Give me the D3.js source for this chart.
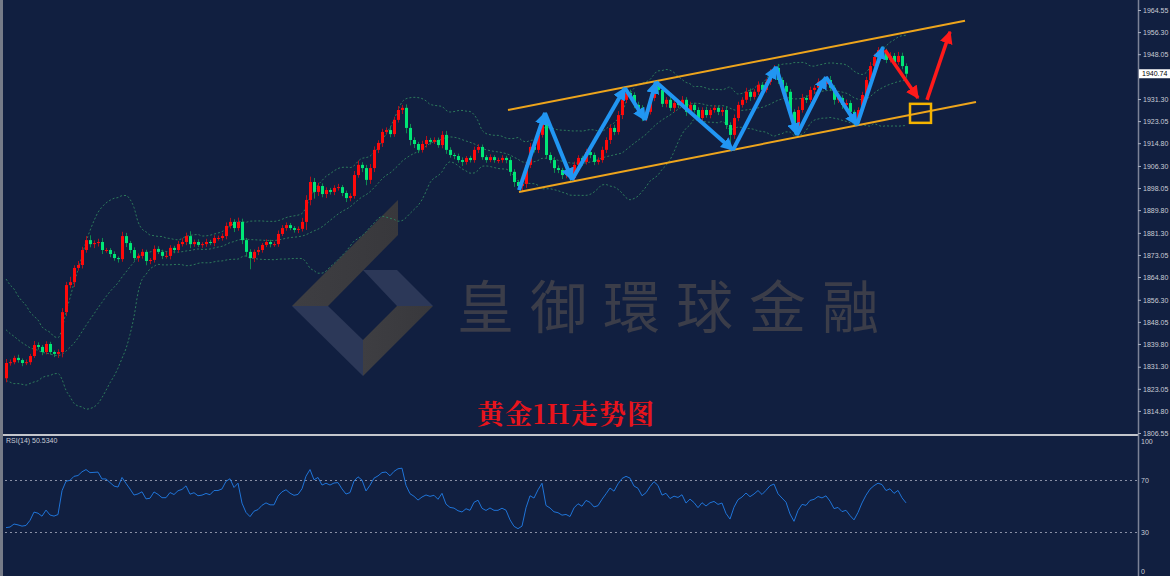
<!DOCTYPE html>
<html>
<head>
<meta charset="utf-8">
<script src="https://cdn.jsdelivr.net/npm/d3@7"></script>
<style>
  body { margin: 0; background: #111f40; }
  svg { display: block; }
</style>
</head>
<body>
<div id="chart"></div>
<script>
// closes before the first visible bar (only feed the bands and the RSI)
const warmupCloses = [1858, 1861, 1856, 1859, 1855, 1852, 1854, 1850, 1848, 1851,
  1846, 1843, 1845, 1840, 1842, 1838, 1835, 1837, 1831, 1827];

// hourly closes
const closes = [
  1832.7, 1833.0, 1834.6, 1833.8, 1832.7, 1833.0, 1835.3, 1839.4, 1838.7, 1836.8,
  1839.8, 1836.8, 1836.1, 1836.8, 1851.7, 1861.8, 1862.9, 1868.2, 1869.3, 1874.9,
  1878.6, 1877.1, 1877.5, 1877.9, 1874.9, 1874.9, 1873.4, 1871.9, 1871.5, 1880.1,
  1877.5, 1874.9, 1871.9, 1872.7, 1874.2, 1870.8, 1871.2, 1875.3, 1874.2, 1872.7,
  1872.7, 1875.7, 1874.9, 1877.1, 1877.9, 1880.1, 1877.1, 1877.9, 1876.8, 1877.1,
  1877.9, 1877.5, 1879.4, 1879.4, 1880.1, 1883.9, 1885.4, 1883.1, 1885.4, 1878.6,
  1874.2, 1871.9, 1874.2, 1874.9, 1876.8, 1877.9, 1877.1, 1877.1, 1880.9, 1883.1,
  1884.2, 1883.1, 1882.4, 1882.8, 1885.4, 1893.6, 1900.3, 1896.6, 1898.8, 1895.8,
  1897.3, 1896.6, 1898.1, 1898.4, 1896.2, 1894.3, 1895.1, 1902.9, 1906.7, 1905.5,
  1901.1, 1905.5, 1912.3, 1914.9, 1919.0, 1919.7, 1918.2, 1923.5, 1927.2, 1928.0,
  1920.5, 1916.0, 1914.5, 1912.3, 1914.5, 1916.0, 1915.3, 1916.0, 1914.1, 1917.9,
  1912.3, 1910.4, 1910.0, 1908.5, 1907.8, 1909.3, 1908.5, 1912.3, 1913.4, 1909.6,
  1908.5, 1909.6, 1908.5, 1908.5, 1909.3, 1908.5, 1904.1, 1900.3, 1898.8, 1899.6,
  1906.7, 1913.4, 1912.3, 1917.9, 1923.5, 1910.4, 1908.5, 1905.5, 1904.8, 1902.9,
  1903.3, 1901.8, 1906.7, 1909.3, 1907.8, 1911.5, 1910.4, 1907.8, 1908.5, 1912.3,
  1916.0, 1920.5, 1919.0, 1925.3, 1931.0, 1933.6, 1932.8, 1929.1, 1928.0, 1924.2,
  1926.5, 1931.7, 1936.6, 1934.7, 1929.5, 1931.0, 1928.0, 1929.8, 1929.1, 1931.0,
  1926.5, 1929.1, 1927.2, 1924.2, 1927.2, 1925.3, 1927.2, 1928.0, 1926.5, 1927.2,
  1921.6, 1917.9, 1924.2, 1929.1, 1931.0, 1934.0, 1932.1, 1934.0, 1936.6, 1934.7,
  1937.7, 1941.4, 1942.9, 1938.4, 1936.2, 1934.0, 1926.5, 1920.5, 1927.2, 1931.7,
  1931.0, 1934.7, 1935.5, 1937.7, 1936.9, 1938.4, 1935.5, 1931.0, 1931.7, 1929.1,
  1929.8, 1926.5, 1923.5, 1927.2, 1932.8, 1938.4, 1943.6, 1947.0, 1949.6, 1948.9,
  1945.9, 1947.4, 1945.1, 1947.4, 1943.6, 1940.74
];

// shadow lengths above / below the body (dollars)
const wickUp = [
  1.5, 1, 0.8, 1.2, 0.6, 1, 0.8, 1.5, 1, 0.7,
  1, 0.8, 0.6, 1, 1.5, 1.2, 2, 1, 1.5, 1.2,
  1.5, 1.8, 1, 1.2, 1.5, 0.8, 0.7, 1, 0.6, 1.6,
  1.2, 0.8, 1, 0.9, 1.1, 0.8, 0.7, 1.3, 1, 0.8,
  1.5, 1, 0.8, 1.2, 1.4, 1.3, 1.8, 0.9, 1, 0.7,
  1.2, 0.8, 1, 0.9, 1, 1.3, 1.5, 1, 1.6, 1.2,
  0.8, 1, 0.9, 1.2, 0.7, 1, 0.8, 0.9, 1.3, 1.1,
  1, 0.8, 0.7, 0.9, 1.5, 1.8, 2, 1.5, 1.2, 1,
  1, 0.8, 1, 1.2, 0.8, 0.9, 1, 1.5, 1.6, 1,
  1.2, 1.5, 1.3, 1, 1.2, 1, 1.4, 1.2, 1.5, 1.1,
  1.3, 1.5, 1, 0.8, 1.2, 1.5, 0.8, 1, 0.9, 1.4,
  1.5, 1, 0.8, 0.9, 1, 0.7, 0.8, 1.2, 1, 0.9,
  0.8, 1, 0.7, 0.9, 1, 0.8, 1.2, 1, 0.8, 0.9,
  1.2, 1.5, 1.2, 1.4, 1.5, 1.8, 1, 1.2, 1, 0.8,
  0.9, 1, 1.2, 1, 0.8, 1.2, 1, 0.9, 1, 1.2,
  1, 1.3, 1.2, 1.5, 1.5, 1.1, 1.2, 1, 1.2, 1,
  1, 1.5, 1.1, 1.5, 1.2, 1, 1.2, 0.9, 1, 1.4,
  1, 1.2, 0.8, 1, 1, 1.2, 0.8, 1, 0.9, 1,
  1.2, 1, 1.3, 1.2, 1, 1.5, 1.2, 1, 1.3, 1,
  1.2, 1.1, 1.1, 1.5, 1, 1.2, 1, 1, 1.3, 1.5,
  1, 1.2, 1, 1.3, 1.2, 1.4, 1.5, 1, 1.2, 1,
  1.3, 1, 0.8, 1, 1.2, 1.2, 1.5, 1.2, 1.1, 1.5,
  1.2, 1.4, 1.1, 1.5, 1.2, 1
];
const wickDn = [
  1.5, 1, 0.8, 1, 1.2, 0.8, 1, 0.7, 1, 1.2,
  0.9, 1, 1.2, 1.5, 2, 1.5, 1.2, 1.8, 1, 1.3,
  1, 1.2, 1.5, 1.3, 1.5, 1, 1.2, 1, 1.3, 1,
  1.5, 1.2, 1, 1.4, 1, 1.6, 1.2, 1, 0.8, 1.2,
  1, 1.3, 1.2, 1, 0.9, 1.2, 1.5, 1, 0.8, 1.1,
  1, 0.8, 1.2, 1, 1, 1.2, 1, 1.5, 1, 1.5,
  1.8, 4.2, 1.5, 1.2, 1, 0.8, 1.2, 1, 1, 0.8,
  1, 0.8, 1, 1.2, 1, 3, 2, 2.5, 1.5, 1.2,
  1.5, 1, 1.2, 1, 1.2, 1.5, 1.2, 1, 1, 1.5,
  2, 1.5, 1.5, 1.2, 1.5, 1, 1.2, 1, 1, 1.5,
  2, 2, 1.5, 1.2, 1, 1.3, 1, 0.8, 1, 1.2,
  1.5, 1, 1.2, 1, 1.5, 1, 0.9, 1, 1.2, 1,
  1, 0.8, 1, 1.2, 1, 1.2, 1.5, 1.8, 1.5, 2.3,
  1.5, 1.2, 1, 1.2, 1, 1.5, 1.2, 1.8, 1.2, 1.5,
  1.2, 1, 1.2, 1, 1.5, 1, 1.2, 1.2, 1, 1,
  1.2, 1.5, 1.2, 1, 1.5, 1.2, 1.3, 1.2, 1.5, 1.2,
  1.2, 1, 1.2, 1.5, 1.2, 1.3, 1.2, 1.5, 1.2, 1,
  1.5, 1.2, 1, 1.5, 1.2, 1, 1.2, 1, 1.2, 1.5,
  1.5, 5, 1.5, 1.2, 1, 1.2, 1.5, 1, 1.2, 1,
  1, 1.2, 1, 1.5, 1.2, 1.5, 1.8, 2.3, 1.2, 1,
  1.2, 1, 1.5, 1, 1.2, 1, 1.2, 1.8, 1.2, 1.5,
  1.2, 1.5, 2.3, 1.5, 1.2, 1, 1.2, 1, 1, 1.2,
  1.2, 1, 1.2, 1, 1.2, 1.5
];

// axis labels (1939.80 sits under the price tag in the original, so it is left out)
const priceTicks = ['1964.55', '1956.30', '1948.05', '1931.30', '1923.05', '1914.80',
  '1906.30', '1898.05', '1889.80', '1881.30', '1873.05', '1864.80', '1856.30', '1848.05',
  '1839.80', '1831.30', '1823.05', '1814.80', '1806.55'];
const rsiTicks = [100, 70, 30, 0];
const rsiLevels = [70, 30];
const rsiLabel = 'RSI(14) 50.5340';
const lastPrice = 1940.74;

// drawn annotations, in [bar index, price]
const channelUpper = [[125.5, 1927.2], [239.75, 1960.5]];
const channelLower = [[128.25, 1896.6], [242.5, 1930.2]];
const zigzag = [[128.25, 1897.3], [134.75, 1926.1], [141.5, 1901.1], [154.75, 1935.4],
  [159.75, 1923.5], [162.5, 1937.7], [181.75, 1912.3], [192.5, 1943.3], [197.75, 1917.9],
  [205, 1939.5], [212.75, 1921.6], [219.25, 1950.7]];
const forecastArrows = [[[219.75, 1949.6], [228, 1931.7]], [[230.25, 1931.0], [236, 1956.4]]];
const targetBox = [[226, 1929.5], [231.25, 1922.4]];

const watermark = '皇御環球金融';
const title = '黄金1H走势图';

const W = 1170;
const H = 576;
const axisX = 1138;

const svg = d3.select('#chart').append('svg')
  .attr('width', W)
  .attr('height', H);

svg.append('rect').attr('width', W).attr('height', H).attr('fill', '#111f40');

// scales
const x = d3.scaleLinear().domain([0, closes.length - 1]).range([6, 6 + 4 * (closes.length - 1)]);
const y = d3.scaleLinear().domain([1806.55, 1964.55]).range([433, 10]);
const yr = d3.scaleLinear().domain([0, 100]).range([571, 441]);

// watermark logo (decoration)
const logo = svg.append('g').attr('id', 'logo');
const grayGrad = svg.append('defs').append('linearGradient')
  .attr('id', 'gg').attr('x1', 0).attr('x2', 1).attr('y1', 0).attr('y2', 0);
grayGrad.append('stop').attr('offset', 0).attr('stop-color', '#3e3e42');
grayGrad.append('stop').attr('offset', 1).attr('stop-color', '#38383c');
const logoParts = [
  { pts: [[398, 200], [398, 235], [328, 306], [292, 306]], fill: 'url(#gg)' },
  { pts: [[292, 306], [328, 306], [363, 340], [363, 376]], fill: '#2c3858' },
  { pts: [[363, 376], [363, 340], [397, 306], [433, 306]], fill: 'url(#gg)' },
  { pts: [[363, 270], [397, 270], [433, 306], [397, 306]], fill: '#2c3858' },
];
logoParts.forEach((p) => {
  logo.append('polygon')
    .attr('points', p.pts.map((d) => d.join(',')).join(' '))
    .attr('fill', p.fill);
});
svg.append('text')
  .attr('x', 457)
  .attr('y', 303)
  .attr('dominant-baseline', 'central')
  .attr('font-family', '"Noto Sans CJK TC", "Noto Sans CJK SC", sans-serif')
  .attr('font-size', 57)
  .attr('letter-spacing', 16)
  .attr('fill', '#3b3d49')
  .text(watermark);

// indicators over warmup + visible closes
const all = warmupCloses.concat(closes);
const off = warmupCloses.length;
const period = 20;
const bands = closes.map((c, j) => {
  const win = all.slice(j + off - period + 1, j + off + 1);
  const m = d3.mean(win);
  const sd = Math.sqrt(d3.mean(win, (v) => (v - m) * (v - m)));
  return { i: j, mid: m, up: m + 2 * sd, lo: m - 2 * sd };
});

const rsiCalc = (vals, n) => {
  const out = new Array(vals.length).fill(null);
  let g = 0;
  let l = 0;
  for (let i = 1; i <= n; i++) {
    const d = vals[i] - vals[i - 1];
    if (d > 0) g += d; else l -= d;
  }
  g /= n; l /= n;
  out[n] = 100 - 100 / (1 + g / l);
  for (let i = n + 1; i < vals.length; i++) {
    const d = vals[i] - vals[i - 1];
    g = (g * (n - 1) + Math.max(d, 0)) / n;
    l = (l * (n - 1) + Math.max(-d, 0)) / n;
    out[i] = l === 0 ? 100 : 100 - 100 / (1 + g / l);
  }
  return out;
};
const rsiAll = rsiCalc(all, 14);
const rsi = closes.map((c, j) => ({ i: j, v: rsiAll[j + off] }));

// bollinger bands, dotted
['up', 'mid', 'lo'].forEach((k) => {
  svg.append('path')
    .datum(bands)
    .attr('fill', 'none')
    .attr('stroke', '#2d7a5b')
    .attr('stroke-width', 1)
    .attr('stroke-dasharray', '2,2')
    .attr('d', d3.line().x((d) => x(d.i)).y((d) => y(d[k])).curve(d3.curveMonotoneX));
});

// candles
const candles = closes.map((c, i) => {
  const o = i === 0 ? warmupCloses[warmupCloses.length - 1] : closes[i - 1];
  return {
    i, o, c,
    h: Math.max(o, c) + wickUp[i],
    l: Math.min(o, c) - wickDn[i],
  };
});
const cg = svg.append('g').attr('id', 'candles');
cg.selectAll('line')
  .data(candles)
  .enter()
  .append('line')
  .attr('x1', (d) => Math.round(x(d.i)) + 0.5)
  .attr('x2', (d) => Math.round(x(d.i)) + 0.5)
  .attr('y1', (d) => y(d.h))
  .attr('y2', (d) => y(d.l))
  .attr('stroke', (d) => (d.c >= d.o ? '#b0101c' : '#0e8a50'))
  .attr('stroke-width', 1);
cg.selectAll('rect')
  .data(candles)
  .enter()
  .append('rect')
  .attr('x', (d) => Math.round(x(d.i)) - 1)
  .attr('width', 3)
  .attr('y', (d) => y(Math.max(d.o, d.c)))
  .attr('height', (d) => Math.max(1, Math.abs(y(d.o) - y(d.c))))
  .attr('fill', (d) => (d.c >= d.o ? '#ff0a0a' : '#00e676'));

// arrow heads
const defs = svg.append('defs');
const marker = (id, color, size) => {
  defs.append('marker')
    .attr('id', id)
    .attr('viewBox', '0 0 10 10')
    .attr('refX', 9)
    .attr('refY', 5)
    .attr('markerUnits', 'userSpaceOnUse')
    .attr('markerWidth', size)
    .attr('markerHeight', size)
    .attr('orient', 'auto')
    .append('path')
    .attr('d', 'M0,0 L10,5 L0,10 Z')
    .attr('fill', color);
};
marker('arrBlue', '#2196f3', 13);
marker('arrRed', '#ff1a1a', 13);

// channel lines
[channelUpper, channelLower].forEach((seg) => {
  svg.append('line')
    .attr('x1', x(seg[0][0])).attr('y1', y(seg[0][1]))
    .attr('x2', x(seg[1][0])).attr('y2', y(seg[1][1]))
    .attr('stroke', '#eea51c')
    .attr('stroke-width', 2);
});

// blue zigzag
d3.pairs(zigzag).forEach(([a, b]) => {
  svg.append('line')
    .attr('x1', x(a[0])).attr('y1', y(a[1]))
    .attr('x2', x(b[0])).attr('y2', y(b[1]))
    .attr('stroke', '#2196f3')
    .attr('stroke-width', 4)
    .attr('marker-end', 'url(#arrBlue)');
});

// red forecast arrows
forecastArrows.forEach(([a, b]) => {
  svg.append('line')
    .attr('x1', x(a[0])).attr('y1', y(a[1]))
    .attr('x2', x(b[0])).attr('y2', y(b[1]))
    .attr('stroke', '#ff1a1a')
    .attr('stroke-width', 3.5)
    .attr('marker-end', 'url(#arrRed)');
});

// target box
svg.append('rect')
  .attr('x', x(targetBox[0][0]))
  .attr('y', y(targetBox[0][1]))
  .attr('width', x(targetBox[1][0]) - x(targetBox[0][0]))
  .attr('height', y(targetBox[1][1]) - y(targetBox[0][1]))
  .attr('fill', 'none')
  .attr('stroke', '#f5b400')
  .attr('stroke-width', 2.5);

// title
svg.append('text')
  .attr('x', 477)
  .attr('y', 412)
  .attr('dominant-baseline', 'central')
  .attr('font-family', '"Noto Serif CJK SC", "Noto Sans CJK SC", serif')
  .attr('font-weight', 700)
  .attr('font-size', 27)
  .attr('letter-spacing', 1)
  .attr('fill', '#e8141c')
  .text(title);

// rsi panel
rsiLevels.forEach((v) => {
  svg.append('line')
    .attr('x1', 0).attr('x2', axisX)
    .attr('y1', Math.round(yr(v)) + 0.5).attr('y2', Math.round(yr(v)) + 0.5)
    .attr('stroke', '#8a90a6')
    .attr('stroke-dasharray', '2,3');
});
svg.append('path')
  .datum(rsi)
  .attr('fill', 'none')
  .attr('stroke', '#1f74d8')
  .attr('stroke-width', 1)
  .attr('d', d3.line().x((d) => x(d.i)).y((d) => yr(d.v)));

svg.append('text')
  .attr('x', 6).attr('y', 443)
  .attr('font-family', '"Liberation Sans", sans-serif')
  .attr('font-size', 7)
  .attr('fill', '#c8ccd6')
  .text(rsiLabel);

// frames
svg.append('rect').attr('x', 0).attr('y', 434).attr('width', axisX).attr('height', 2).attr('fill', '#c4c6cc');
svg.append('rect').attr('x', 0).attr('y', 0).attr('width', 3).attr('height', H).attr('fill', '#767b88');
svg.append('line')
  .attr('x1', axisX + 0.5).attr('x2', axisX + 0.5)
  .attr('y1', 0).attr('y2', H)
  .attr('stroke', '#7c8296')
  .attr('stroke-width', 1.5);

// price axis
const yAxis = d3.axisRight(y)
  .tickValues(priceTicks.map(Number))
  .tickFormat((d, i) => priceTicks[i])
  .tickSize(3)
  .tickPadding(2);
const ya = svg.append('g')
  .attr('transform', `translate(${axisX},0)`)
  .call(yAxis);
ya.select('.domain').remove();
ya.selectAll('line').attr('stroke', '#aab0c0');
ya.selectAll('text')
  .attr('fill', '#c8ccd6')
  .attr('font-family', '"Liberation Sans", sans-serif')
  .attr('font-size', 7);

// current price tag
svg.append('rect')
  .attr('x', axisX + 1).attr('y', y(lastPrice) - 4.5)
  .attr('width', 31).attr('height', 9)
  .attr('fill', '#ffffff');
svg.append('text')
  .attr('x', axisX + 4).attr('y', y(lastPrice))
  .attr('dominant-baseline', 'central')
  .attr('font-family', '"Liberation Sans", sans-serif')
  .attr('font-size', 7)
  .attr('fill', '#000')
  .text(lastPrice.toFixed(2));

// rsi axis labels
svg.append('g').selectAll('text')
  .data(rsiTicks)
  .enter()
  .append('text')
  .attr('x', axisX + 3)
  .attr('y', (d) => yr(d))
  .attr('dominant-baseline', 'central')
  .attr('font-family', '"Liberation Sans", sans-serif')
  .attr('font-size', 7)
  .attr('fill', '#c8ccd6')
  .text((d) => d);
</script>
</body>
</html>
